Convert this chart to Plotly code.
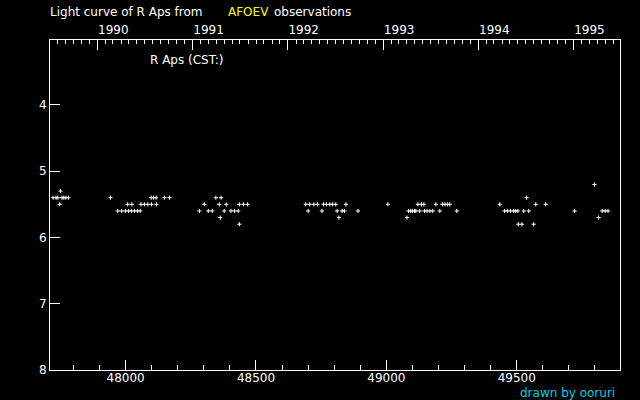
import datetime as dt
import plotly.graph_objects as go

# ---- data: JD-2400000 of observations, grouped by visual magnitude ----
jd_52 = [49798]
jd_53 = [47750]
jd_54 = [47722, 47733, 47740, 47756, 47763, 47771, 47781, 47942, 48098, 48107, 48117,
         48149, 48168, 48346, 48366, 49538]
jd_55 = [47747, 48008, 48024, 48059, 48072, 48085, 48099, 48118, 48302, 48359, 48386,
         48436, 48452, 48468, 48691, 48706, 48722, 48736, 48759, 48770, 48783, 48794,
         48806, 48845, 49006, 49121, 49134, 49144, 49190, 49215, 49225, 49235, 49243,
         49435, 49573, 49611]
jd_56 = [47970, 47985, 47999, 48011, 48022, 48034, 48045, 48056, 48283, 48317, 48332,
         48378, 48404, 48418, 48432, 48700, 48753, 48811, 48830, 48839, 48891, 49085,
         49093, 49100, 49108, 49113, 49128, 49146, 49156, 49167, 49178, 49205, 49270,
         49453, 49464, 49476, 49488, 49496, 49504, 49527, 49546, 49722, 49828, 49839,
         49850]
jd_57 = [48363, 48818, 49079, 49814]
jd_58 = [48436, 49506, 49520, 49565]

groups = {5.2: jd_52, 5.3: jd_53, 5.4: jd_54, 5.5: jd_55, 5.6: jd_56, 5.7: jd_57, 5.8: jd_58}

years = [1990, 1991, 1992, 1993, 1994, 1995]
mag_ticks = [4, 5, 6, 7, 8]
jd_ticks = [48000, 48500, 49000, 49500]

x_range = [47710, 49896]
y_range = [8, 3.02]


def jd_of(d):
    mjd = (d - dt.date(1858, 11, 17)).days
    return mjd + 0.5


year_jd = [jd_of(dt.date(y, 1, 1)) for y in years]
month_jd = []
for y in range(1989, 1996):
    for m in range(1, 13):
        v = jd_of(dt.date(y, m, 1))
        if x_range[0] <= v <= x_range[1]:
            month_jd.append(v)

xs, ys = [], []
for mag, lst in groups.items():
    xs += lst
    ys += [mag] * len(lst)

fig = go.Figure()
fig.add_trace(go.Scatter(
    x=xs, y=ys, mode="markers",
    marker=dict(symbol="cross-thin", size=3, line=dict(color="white", width=1), color="white"),
    hoverinfo="skip", showlegend=False))
fig.add_trace(go.Scatter(
    x=xs, y=ys, mode="markers", xaxis="x2",
    marker=dict(size=1, opacity=0), hoverinfo="skip", showlegend=False))

font_main = "DejaVu Sans"
fig.update_layout(
    width=640, height=400,
    paper_bgcolor="black", plot_bgcolor="black",
    margin=dict(l=50, r=20, t=40, b=30),
    font=dict(family=font_main, color="white", size=11),
    xaxis=dict(
        range=x_range, tickvals=jd_ticks, ticktext=[str(v) for v in jd_ticks],
        ticks="inside", ticklen=10, tickwidth=1, tickcolor="white",
        ticklabelstandoff=-3, automargin=False,
        minor=dict(dtick=100, tick0=48000, ticks="inside", ticklen=5, tickwidth=1, tickcolor="white"),
        showline=True, linecolor="white", linewidth=1, mirror=True,
        showgrid=False, zeroline=False,
        tickfont=dict(size=12, color="white", family=font_main),
    ),
    xaxis2=dict(
        range=x_range, overlaying="x", side="top",
        tickvals=year_jd, ticktext=[str(y) for y in years],
        ticks="inside", ticklen=10, tickwidth=1, tickcolor="white",
        ticklabelposition="outside right", ticklabelstandoff=3, automargin=False,
        minor=dict(tickvals=month_jd, ticks="inside", ticklen=4, tickwidth=1, tickcolor="white"),
        showline=False, showgrid=False, zeroline=False,
        tickfont=dict(size=12, color="white", family=font_main),
    ),
    yaxis=dict(
        range=y_range, tickvals=mag_ticks, ticktext=[str(v) for v in mag_ticks],
        ticks="inside", ticklen=10, tickwidth=1, tickcolor="white", automargin=False,
        showline=True, linecolor="white", linewidth=1, mirror=True,
        showgrid=False, zeroline=False,
        tickfont=dict(size=12, color="white", family=font_main),
    ),
    annotations=[
        dict(text="Light curve of R Aps from", x=-0.004, y=1.085, xref="paper", yref="paper",
             xanchor="left", yanchor="middle", showarrow=False, font=dict(color="white", size=12)),
        dict(text="AFOEV", x=0.309, y=1.085, xref="paper", yref="paper",
             xanchor="left", yanchor="middle", showarrow=False, font=dict(color="#ffff00", size=12)),
        dict(text="observations", x=0.389, y=1.085, xref="paper", yref="paper",
             xanchor="left", yanchor="middle", showarrow=False, font=dict(color="white", size=12)),
        dict(text="R Aps (CST:)", x=0.1720, y=0.939, xref="paper", yref="paper",
             xanchor="left", yanchor="middle", showarrow=False, font=dict(color="white", size=12)),
        dict(text="drawn by ooruri", x=0.9947, y=-0.0700, xref="paper", yref="paper",
             xanchor="right", yanchor="middle", showarrow=False, font=dict(color="#00d0e8", size=12)),
    ],
)

fig.write_html("out.html", post_script="document.body.style.margin='0';",
               config={"displayModeBar": False})
